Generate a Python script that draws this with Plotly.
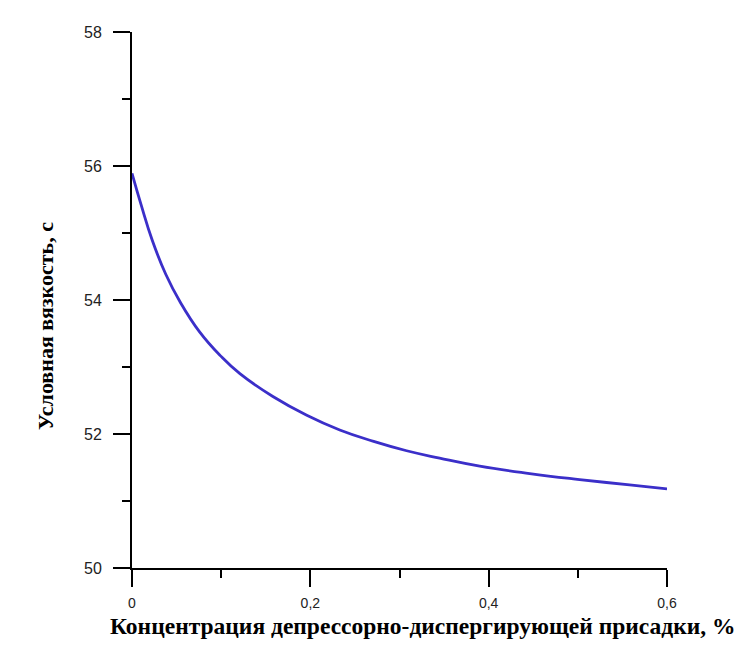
import plotly.graph_objects as go

# Data
concentration = [0, 0.01, 0.023, 0.038, 0.054, 0.076, 0.099, 0.121, 0.158, 0.196,
                 0.233, 0.271, 0.308, 0.345, 0.390, 0.446, 0.502, 0.558, 0.600]
viscosity = [55.89, 55.43, 54.88, 54.38, 53.97, 53.52, 53.17, 52.90, 52.56, 52.28,
             52.06, 51.89, 51.75, 51.64, 51.52, 51.41, 51.32, 51.24, 51.18]

x_tick_vals = [0, 0.2, 0.4, 0.6]
x_tick_text = ["0", "0,2", "0,4", "0,6"]
y_tick_vals = [50, 52, 54, 56, 58]
y_tick_text = ["50", "52", "54", "56", "58"]

x_title = "Концентрация депрессорно-диспергирующей присадки, %"
y_title = "Условная вязкость, с"

fig = go.Figure()
fig.add_trace(go.Scatter(
    x=concentration, y=viscosity, mode="lines",
    line=dict(color="#3b2fc9", width=2.8, shape="spline", smoothing=1.3),
    hoverinfo="skip", showlegend=False, cliponaxis=False,
))

axis_common = dict(
    showgrid=False, zeroline=False, showline=True, linecolor="black", linewidth=2,
    ticks="outside", ticklen=17, tickwidth=2, tickcolor="black",
)

fig.update_xaxes(
    range=[0, 0.6], tickvals=x_tick_vals, ticktext=x_tick_text,
    tickfont=dict(family="Liberation Sans, Arial", size=14, color="#222"),
    minor=dict(ticks="outside", ticklen=8, tickwidth=2, tickcolor="black", dtick=0.1, tick0=0),
    ticklabelstandoff=4,
    **axis_common,
)
fig.update_yaxes(
    range=[50, 58], tickvals=y_tick_vals, ticktext=y_tick_text,
    tickfont=dict(family="Liberation Sans, Arial", size=16, color="#222"),
    minor=dict(ticks="outside", ticklen=8, tickwidth=2, tickcolor="black", dtick=1, tick0=50),
    ticklabelstandoff=8,
    **axis_common,
)

fig.add_annotation(
    text="<b>" + x_title + "</b>", xref="paper", yref="paper",
    x=(423 - 132) / 535, y=-(626 - 568) / 536,
    showarrow=False, xanchor="center", yanchor="middle",
    font=dict(family="Liberation Serif, Times New Roman", size=23.5, color="black"),
)
fig.add_annotation(
    text="<b>" + y_title + "</b>", xref="paper", yref="paper",
    x=-(132 - 45) / 535, y=(568 - 326) / 536,
    showarrow=False, xanchor="center", yanchor="middle", textangle=-90,
    font=dict(family="Liberation Serif, Times New Roman", size=22, color="black"),
)

fig.update_layout(
    width=751, height=658,
    margin=dict(l=132, r=84, t=32, b=90),
    paper_bgcolor="white", plot_bgcolor="white",
)

fig.write_html("out.html")
